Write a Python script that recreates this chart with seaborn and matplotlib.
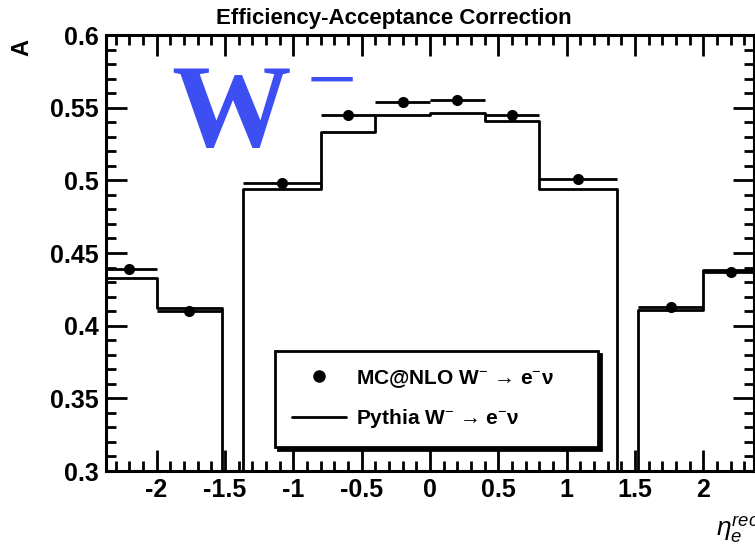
import numpy as np
import pandas as pd
import matplotlib
matplotlib.use("Agg")
import matplotlib.pyplot as plt
from matplotlib.lines import Line2D
from matplotlib.ticker import MultipleLocator, FormatStrFormatter
import seaborn as sns

# ---------------- data ----------------
bin_edges = [-2.4, -2.0, -1.52, -1.37, -0.8, -0.4, 0.0, 0.4, 0.8, 1.37, 1.52, 2.0, 2.4]
pythia_values = [0.433, 0.412, 0.0, 0.494, 0.533, 0.545, 0.546, 0.541, 0.494, 0.0, 0.411, 0.438]
mcnlo_values = [0.439, 0.410, 0.498, 0.545, 0.554, 0.555, 0.545, 0.501, 0.413, 0.437]
title_text = "Efficiency-Acceptance Correction"
legend_labels = ["MC@NLO W$^{-}$ \u2192 e$^{-}$\u03bd", "Pythia W$^{-}$ \u2192 e$^{-}$\u03bd"]

edges = np.array(bin_edges)
centers = 0.5 * (edges[:-1] + edges[1:])
halfw = 0.5 * (edges[1:] - edges[:-1])
pythia_df = pd.DataFrame({"eta": centers, "A": pythia_values})
mask = np.array(pythia_values) > 0  # MC@NLO has no entry in the crack bins
mc_df = pd.DataFrame({"eta": centers[mask], "A": mcnlo_values, "xerr": halfw[mask]})

# ---------------- style ----------------
sns.set_theme(style="ticks")
plt.rcParams["font.family"] = ["Liberation Sans", "DejaVu Sans"]
plt.rcParams["mathtext.fontset"] = "custom"
plt.rcParams["mathtext.rm"] = "Liberation Sans"
plt.rcParams["mathtext.it"] = "Liberation Sans:italic"
plt.rcParams["mathtext.bf"] = "Liberation Sans:bold"
plt.rcParams["axes.unicode_minus"] = False
for key in ["text.color", "axes.labelcolor", "xtick.color", "ytick.color",
            "axes.edgecolor", "xtick.labelcolor", "ytick.labelcolor"]:
    plt.rcParams[key] = "black"

fig = plt.figure(figsize=(7.55, 5.48), dpi=100)
ax = fig.add_axes([0.1404, 0.1405, 0.8583, 0.7956])

# Pythia histogram
sns.histplot(data=pythia_df, x="eta", weights="A", bins=list(bin_edges), element="step",
             fill=False, color="black", linewidth=2.0, ax=ax, legend=False)

# MC@NLO points with horizontal bin-width bars
ax.errorbar(mc_df["eta"], mc_df["A"], xerr=mc_df["xerr"], fmt="none",
            ecolor="black", elinewidth=2.0, capsize=0, zorder=3)
sns.scatterplot(data=mc_df, x="eta", y="A", color="black", s=64,
                edgecolor="black", linewidth=0, zorder=4, ax=ax, legend=False)

ax.set_xlim(-2.37, 2.37)
ax.set_ylim(0.3, 0.6)
ax.set_xlabel("")
ax.set_ylabel("")

# ticks
ax.xaxis.set_major_locator(MultipleLocator(0.5))
ax.xaxis.set_minor_locator(MultipleLocator(0.1))
ax.yaxis.set_major_locator(MultipleLocator(0.05))
ax.yaxis.set_minor_locator(MultipleLocator(0.01))
ax.xaxis.set_major_formatter(FormatStrFormatter("%g"))
ax.yaxis.set_major_formatter(FormatStrFormatter("%g"))
ax.tick_params(which="both", direction="in", top=True, right=True,
               color="black", width=2.0)
ax.tick_params(which="major", length=15)
ax.tick_params(which="minor", length=7.5)
ax.tick_params(axis="both", which="major", labelsize=18, pad=5)
for lab in ax.get_xticklabels() + ax.get_yticklabels():
    lab.set_fontweight("bold")
for sp in ax.spines.values():
    sp.set_visible(True)
    sp.set_linewidth(2.2)
    sp.set_color("black")

# title and axis titles
fig.text(0.521, 0.966, title_text, ha="center", va="center",
         fontsize=16, fontweight="bold")
fig.text(0.029, 0.913, "A", rotation=90, ha="center", va="center",
         fontsize=17, fontweight="bold")
fig.text(0.948, 0.032, r"$\eta_{e}^{rec}$", ha="left", va="center",
         fontsize=19, fontweight="bold")

# big W^- label
blue = "#3d4ef2"
ax.text(0.100, 0.81, "W", transform=ax.transAxes, ha="left", va="center",
        fontsize=86, family="Liberation Serif", fontweight="bold", color=blue)
ax.text(0.31, 0.88, "\u2212", transform=ax.transAxes, ha="left", va="center",
        fontsize=64, family="Liberation Serif", color=blue)

# legend
handles = [Line2D([], [], color="black", marker="o", linestyle="none", markersize=8),
           Line2D([], [], color="black", linewidth=2.0)]
leg = ax.legend(handles, legend_labels, loc="lower left",
                bbox_to_anchor=(0.261, 0.055, 0.498, 0.216), mode="expand",
                fancybox=False, shadow={"color": "black", "alpha": 1.0},
                edgecolor="black", framealpha=1.0,
                prop={"weight": "bold", "size": 15},
                handlelength=2.6, handletextpad=0.5, labelspacing=0.85,
                borderpad=0.8, borderaxespad=0)
leg.get_frame().set_linewidth(2.0)

fig.savefig("out.png", dpi=100)
